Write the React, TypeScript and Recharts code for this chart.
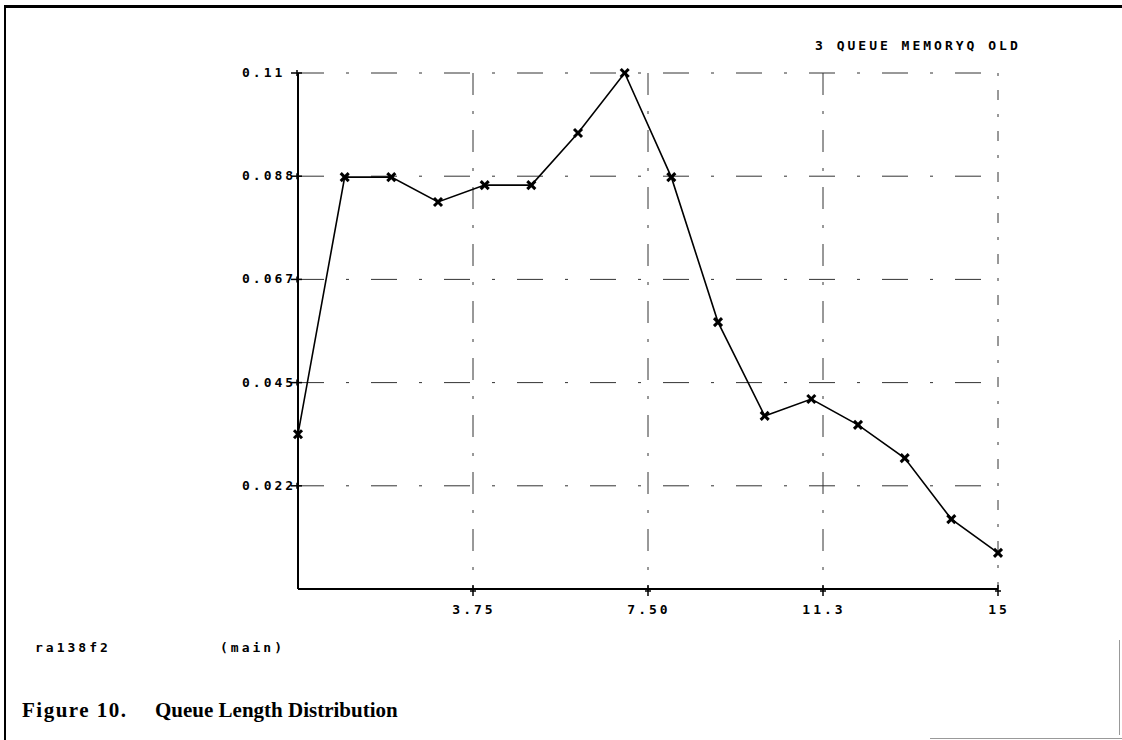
import { LineChart, Line, XAxis, YAxis, CartesianGrid } from "recharts";

const xValues = [0, 1, 2, 3, 4, 5, 6, 7, 8, 9, 10, 11, 12, 13, 14, 15];
const queueShare = [
  0.033, 0.0878, 0.0878, 0.0825, 0.0861, 0.0861, 0.0972, 0.11, 0.0878,
  0.0569, 0.0369, 0.0405, 0.035, 0.0279, 0.0149, 0.0077,
];
const xTicks = [3.75, 7.5, 11.25, 15];
const xTickLabels = ["3.75", "7.50", "11.3", "15"];
const yTicks = [0.022, 0.044, 0.066, 0.088, 0.11];
const yTickLabels = ["0.022", "0.045", "0.067", "0.088", "0.11"];

const data = xValues.map((x, i) => ({ x, value: queueShare[i] }));

const mono = "'DejaVu Sans Mono', monospace";

const XMark = (props: any) => {
  const { cx, cy } = props;
  if (cx == null || cy == null) return null;
  const s = 4;
  return (
    <g stroke="#000" strokeWidth={3}>
      <line x1={cx - s} y1={cy - s} x2={cx + s} y2={cy + s} />
      <line x1={cx - s} y1={cy + s} x2={cx + s} y2={cy - s} />
    </g>
  );
};

const XTick = (props: any) => {
  const { x, y, payload } = props;
  const i = xTicks.indexOf(payload.value);
  return (
    <g>
      <line x1={x} y1={y - 12} x2={x} y2={y - 1} stroke="#000" strokeWidth={1.5} />
      <line x1={x - 3} y1={y - 6} x2={x + 3} y2={y - 6} stroke="#000" strokeWidth={1.5} />
      <text
        x={x + 1}
        y={y + 17}
        textAnchor="middle"
        fontFamily={mono}
        fontWeight="bold"
        fontSize={13}
        letterSpacing={3}
        fill="#000"
      >
        {xTickLabels[i] ?? ""}
      </text>
    </g>
  );
};

const YTick = (props: any) => {
  const { y, payload } = props;
  const i = yTicks.indexOf(payload.value);
  return (
    <g>
      <line x1={291} y1={y} x2={302} y2={y} stroke="#000" strokeWidth={1.5} />
      <line x1={297} y1={y - 3} x2={297} y2={y + 3} stroke="#000" strokeWidth={1.5} />
      <text
        x={242}
        y={y + 4}
        textAnchor="start"
        fontFamily={mono}
        fontWeight="bold"
        fontSize={13}
        letterSpacing={3}
        fill="#000"
      >
        {yTickLabels[i] ?? ""}
      </text>
    </g>
  );
};

const smallText = {
  position: "absolute" as const,
  fontFamily: mono,
  fontWeight: "bold" as const,
  fontSize: 13,
  letterSpacing: 3,
  whiteSpace: "pre" as const,
};

export default function App() {
  return (
    <div
      style={{
        position: "absolute",
        left: 0,
        top: 0,
        width: 1122,
        height: 740,
        background: "#fff",
        overflow: "hidden",
      }}
    >
      {/* page frame */}
      <div style={{ position: "absolute", left: 4, top: 5, width: 1118, height: 3, background: "#000" }} />
      <div style={{ position: "absolute", left: 4, top: 5, width: 2, height: 735, background: "#000" }} />
      <div style={{ position: "absolute", left: 1119, top: 640, width: 1, height: 95, background: "#999" }} />
      <div style={{ position: "absolute", left: 930, top: 738, width: 192, height: 1, background: "#999" }} />

      <div style={{ ...smallText, left: 815, top: 38 }}>3 QUEUE MEMORYQ OLD</div>

      <div style={{ position: "absolute", left: 0, top: 0 }}>
        <LineChart
          width={1122}
          height={740}
          data={data}
          margin={{ top: 73, right: 124, bottom: 121, left: 218 }}
        >
          <CartesianGrid
            stroke="#333"
            strokeWidth={1}
            strokeDasharray="22 16 3 16"
            verticalPoints={[473, 648, 823]}
            vertical={true}
            horizontal={false}
          />
          <CartesianGrid
            stroke="#333"
            strokeWidth={1}
            strokeDasharray="26 22 3 22"
            horizontal={true}
            vertical={false}
          />
          <CartesianGrid
            stroke="#333"
            strokeWidth={1}
            strokeDasharray="3 14 10 14"
            verticalPoints={[998]}
            horizontal={false}
            vertical={true}
          />
          <XAxis
            dataKey="x"
            type="number"
            domain={[0, 15]}
            ticks={xTicks}
            height={30}
            axisLine={{ stroke: "#000", strokeWidth: 2 }}
            tickLine={false}
            tick={<XTick />}
            interval={0}
          />
          <YAxis
            type="number"
            domain={[0, 0.11]}
            ticks={yTicks}
            width={80}
            axisLine={{ stroke: "#000", strokeWidth: 2 }}
            tickLine={false}
            tick={<YTick />}
            interval={0}
          />
          <Line
            type="linear"
            dataKey="value"
            stroke="#000"
            strokeWidth={1.6}
            dot={<XMark />}
            activeDot={false}
            isAnimationActive={false}
          />
        </LineChart>
      </div>

      <div style={{ ...smallText, left: 35, top: 640 }}>ra138f2</div>
      <div style={{ ...smallText, left: 220, top: 640 }}>(main)</div>

      <div
        style={{
          position: "absolute",
          left: 22,
          top: 698,
          fontFamily: "'Liberation Serif', serif",
          fontWeight: "bold",
          fontSize: 21,
          letterSpacing: 1.5,
          whiteSpace: "pre",
        }}
      >
        Figure 10.
      </div>
      <div
        style={{
          position: "absolute",
          left: 155,
          top: 698,
          fontFamily: "'Liberation Serif', serif",
          fontWeight: "bold",
          fontSize: 21,
          whiteSpace: "pre",
        }}
      >
        Queue Length Distribution
      </div>
    </div>
  );
}
